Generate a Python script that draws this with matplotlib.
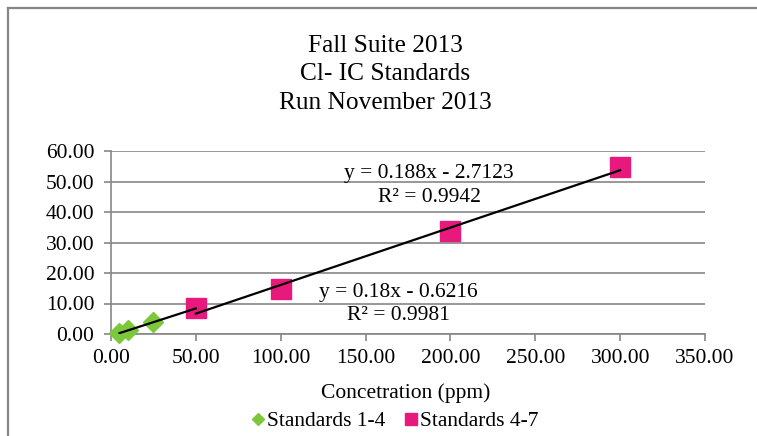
import matplotlib
matplotlib.use("Agg")
import matplotlib.pyplot as plt
from matplotlib.lines import Line2D
from matplotlib.ticker import FormatStrFormatter
import numpy as np

# Calibration standards (concentration in ppm vs. measured response)
low_conc = [5, 10, 25, 50]
low_resp = [0.2, 1.3, 3.8, 8.4]
high_conc = [50, 100, 200, 300]
high_resp = [8.4, 14.6, 33.8, 54.6]

# Linear trendlines as reported: slope, intercept, R²
low_fit = (0.18, -0.6216, 0.9981)
high_fit = (0.188, -2.7123, 0.9942)

title_lines = ["Fall Suite 2013", "Cl- IC Standards", "Run November 2013"]
series_names = ["Standards 1-4", "Standards 4-7"]
x_label = "Concetration (ppm)"

green = "#7CC83A"
pink = "#E8197C"
grid_gray = "#868686"

plt.rcParams["font.family"] = ["Liberation Serif", "DejaVu Serif"]

W, H = 757, 436
X0, X1, Y0, Y1 = 111, 705, 334, 151  # plot area edges in pixels
fig = plt.figure(figsize=(W / 100, H / 100), dpi=100)
ax = fig.add_axes([X0 / W, 1 - Y0 / H, (X1 - X0) / W, (Y0 - Y1) / H])

# chart frame
fig.add_artist(Line2D([8 / W, 8 / W], [0, 1 - 8 / H], transform=fig.transFigure,
                      color=grid_gray, lw=1.6))
fig.add_artist(Line2D([8 / W, 1], [1 - 8 / H, 1 - 8 / H], transform=fig.transFigure,
                      color=grid_gray, lw=1.6))

ax.set_xlim(0, 350)
ax.set_ylim(0, 60)
ax.set_xticks(np.arange(0, 351, 50))
ax.set_yticks(np.arange(0, 61, 10))
ax.xaxis.set_major_formatter(FormatStrFormatter("%.2f"))
ax.yaxis.set_major_formatter(FormatStrFormatter("%.2f"))
ax.tick_params(axis="both", labelsize=15.5, colors=grid_gray, labelcolor="black",
               length=5, width=1.2, direction="out")
ax.tick_params(axis="x", pad=6)
ax.tick_params(axis="y", pad=7)
ax.grid(axis="y", color=grid_gray, lw=1.2)
ax.set_axisbelow(True)
for side in ["top", "right"]:
    ax.spines[side].set_visible(False)
for side in ["left", "bottom"]:
    ax.spines[side].set_color(grid_gray)
    ax.spines[side].set_linewidth(1.2)

ax.plot(low_conc, low_resp, linestyle="none", marker="D", ms=10.5, color=green,
        label=series_names[0], zorder=3, clip_on=False)
ax.plot(high_conc, high_resp, linestyle="none", marker="s", ms=14, color=pink,
        label=series_names[1], zorder=3, clip_on=False)

for xs, (m, b, r2) in ((low_conc, low_fit), (high_conc, high_fit)):
    xx = np.array([min(xs), max(xs)])
    ax.plot(xx, m * xx + b, color="black", lw=1.6, zorder=4)


def px_to_data(px, py):
    return (px - X0) * 350 / (X1 - X0), (Y0 - py) * 60 / (Y0 - Y1)


def fmt_eq(m, b):
    sign = "-" if b < 0 else "+"
    return f"y = {m:g}x {sign} {abs(b):g}"


for (m, b, r2), (cx, cy1, cy2) in ((low_fit, (398, 292, 315)),
                                   (high_fit, (429, 173, 197))):
    ax.text(*px_to_data(cx, cy1), fmt_eq(m, b), fontsize=15.5, ha="center", va="center")
    ax.text(*px_to_data(cx, cy2), f"R² = {r2:.4f}", fontsize=15.5, ha="center", va="center")

for i, line in enumerate(title_lines):
    fig.text(385 / W, 1 - (46 + 28.5 * i) / H, line, fontsize=18.3, ha="center", va="center")

fig.text(406 / W, 1 - 393 / H, x_label, fontsize=15.5, ha="center", va="center")

fig.legend(loc="center", bbox_to_anchor=(395 / W, 1 - 421 / H), ncol=2,
           frameon=False, fontsize=15.5, handlelength=0.6, handletextpad=0.1,
           columnspacing=0.9, borderpad=0, markerscale=0.6)

fig.savefig("out.png", dpi=100)
